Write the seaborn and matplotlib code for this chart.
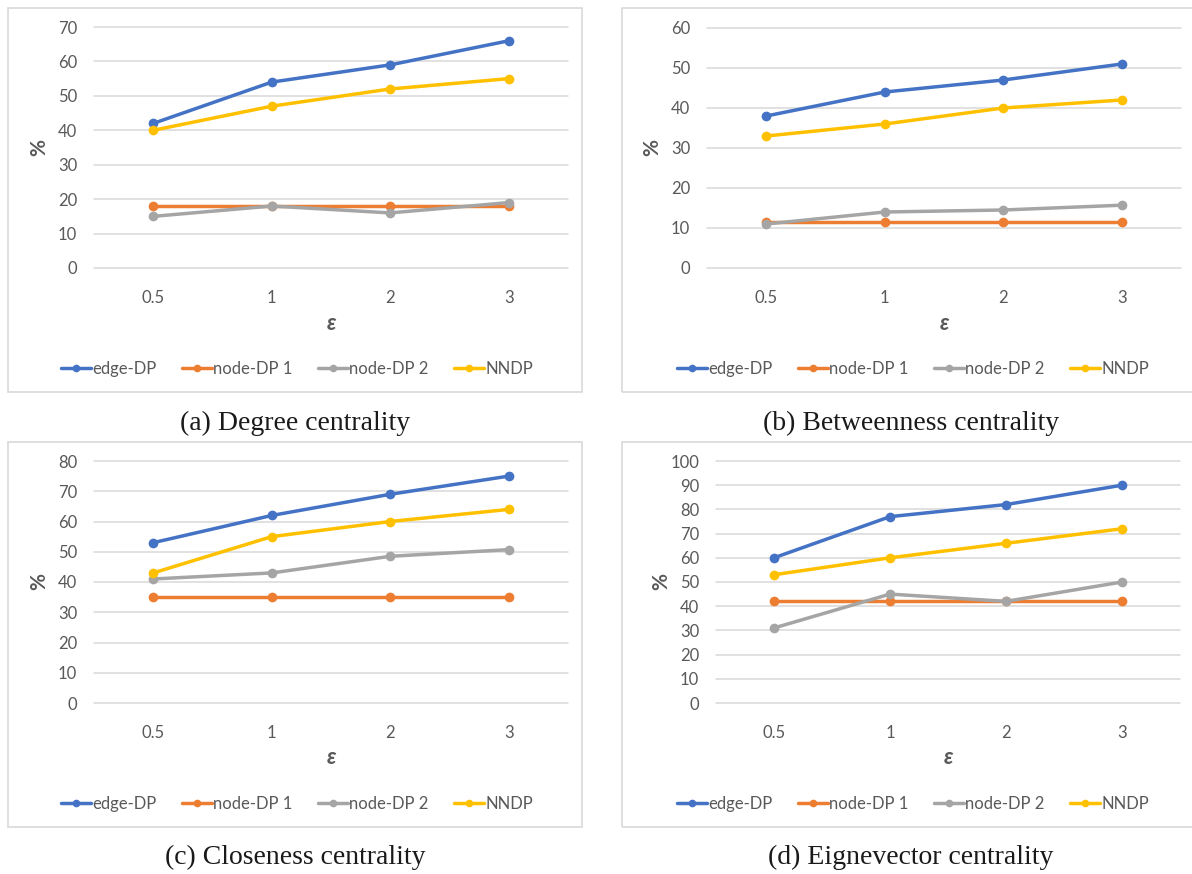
import matplotlib
matplotlib.use("Agg")
import matplotlib.pyplot as plt
from matplotlib.lines import Line2D
from matplotlib.patches import Rectangle
import numpy as np
import pandas as pd
import seaborn as sns

# Privacy budgets on the x axis
epsilons = ["0.5", "1", "2", "3"]
methods = ["edge-DP", "node-DP 1", "node-DP 2", "NNDP"]
colors = ["#4472C4", "#ED7D31", "#A5A5A5", "#FFC000"]

# (a) Degree centrality
degree_edge = [42, 54, 59, 66]
degree_node1 = [18, 18, 18, 18]
degree_node2 = [15, 18, 16, 19]
degree_nndp = [40, 47, 52, 55]

# (b) Betweenness centrality
between_edge = [38, 44, 47, 51]
between_node1 = [11.5, 11.5, 11.5, 11.5]
between_node2 = [11, 14, 14.5, 15.7]
between_nndp = [33, 36, 40, 42]

# (c) Closeness centrality
close_edge = [53, 62, 69, 75]
close_node1 = [35, 35, 35, 35]
close_node2 = [41, 43, 48.5, 50.7]
close_nndp = [43, 55, 60, 64]

# (d) Eigenvector centrality
eigen_edge = [60, 77, 82, 90]
eigen_node1 = [42, 42, 42, 42]
eigen_node2 = [31, 45, 42, 50]
eigen_nndp = [53, 60, 66, 72]

captions = ["(a) Degree centrality", "(b) Betweenness centrality",
            "(c) Closeness centrality", "(d) Eignevector centrality"]
y_max = [70, 60, 80, 100]
series = [
    [degree_edge, degree_node1, degree_node2, degree_nndp],
    [between_edge, between_node1, between_node2, between_nndp],
    [close_edge, close_node1, close_node2, close_nndp],
    [eigen_edge, eigen_node1, eigen_node2, eigen_nndp],
]

sns.set_theme(style="white")
plt.rcParams["font.family"] = ["Lato", "DejaVu Sans"]

W, H = 1192, 874
fig = plt.figure(figsize=(W / 100, H / 100), dpi=100)
fig.patch.set_facecolor("white")

# pixel boxes: frame (l, t, r, b), plot area (l, t, r, b), label rows
panels = [
    dict(frame=(8, 8, 582, 392), plot=(94, 27, 568, 268), eps_y=323, leg_y=369, cap_y=423),
    dict(frame=(622, 8, 1200, 392), plot=(707, 28, 1181, 268), eps_y=323, leg_y=369, cap_y=423),
    dict(frame=(8, 442, 582, 827), plot=(94, 461, 568, 703), eps_y=758, leg_y=804, cap_y=857),
    dict(frame=(622, 442, 1200, 827), plot=(716, 461, 1180, 703), eps_y=758, leg_y=804, cap_y=857),
]

text_gray = "#595959"
grid_gray = "#D9D9D9"

for i, p in enumerate(panels):
    fl, ft, fr, fb = p["frame"]
    fig.patches.append(Rectangle((fl / W, 1 - fb / H), (fr - fl) / W, (fb - ft) / H,
                                 transform=fig.transFigure, fill=False,
                                 edgecolor=grid_gray, linewidth=1.2, zorder=0))
    l, t, r, b = p["plot"]
    ax = fig.add_axes([l / W, 1 - b / H, (r - l) / W, (b - t) / H])

    rows = []
    for m, vals in zip(methods, series[i]):
        for k, v in enumerate(vals):
            rows.append({"pos": k, "value": v, "method": m})
    df = pd.DataFrame(rows)

    sns.lineplot(data=df, x="pos", y="value", hue="method", hue_order=methods,
                 palette=colors, marker="o", markersize=7, markeredgewidth=0,
                 linewidth=2.5, legend=False, ax=ax, zorder=3)

    ax.set_xlim(-0.5, 3.5)
    ax.set_ylim(0, y_max[i])
    ax.set_yticks(np.arange(0, y_max[i] + 1, 10))
    ax.set_xticks(range(len(epsilons)))
    ax.set_xticklabels(epsilons)
    ax.tick_params(axis="both", length=0, labelsize=12, labelcolor=text_gray)
    ax.tick_params(axis="y", pad=12)
    ax.tick_params(axis="x", pad=16)
    ax.yaxis.grid(True, color=grid_gray, linewidth=1.1)
    ax.xaxis.grid(False)
    for gl in ax.get_ygridlines():
        gl.set_clip_on(False)
    for s in ax.spines.values():
        s.set_visible(False)
    ax.set_xlabel("")
    ax.set_ylabel("")
    ax.set_facecolor("none")

    # axis titles
    fig.text((l - 55) / W, 1 - ((t + b) / 2) / H, "%", rotation=90, ha="center",
             va="center", fontsize=15, fontweight="bold", color=text_gray)
    fig.text(((l + r) / 2) / W, 1 - p["eps_y"] / H, "ε", ha="center", va="center",
             fontsize=16, fontweight="bold", style="italic", color=text_gray)

    handles = [Line2D([0], [0], color=c, lw=2.5, marker="o", markersize=5.5,
                      markeredgewidth=0) for c in colors]
    fig.legend(handles, methods, loc="center",
               bbox_to_anchor=(((fl + fr) / 2 + 2) / W, 1 - p["leg_y"] / H),
               ncol=4, frameon=False, fontsize=12, labelcolor=text_gray,
               handlelength=1.8, handletextpad=0.1, columnspacing=1.5)

    fig.text(((fl + fr) / 2) / W, 1 - p["cap_y"] / H, captions[i], ha="center",
             va="center", fontsize=20, family=["Liberation Serif", "DejaVu Serif"],
             color="#1a1a1a")

fig.savefig("out.png", dpi=100, facecolor="white")
